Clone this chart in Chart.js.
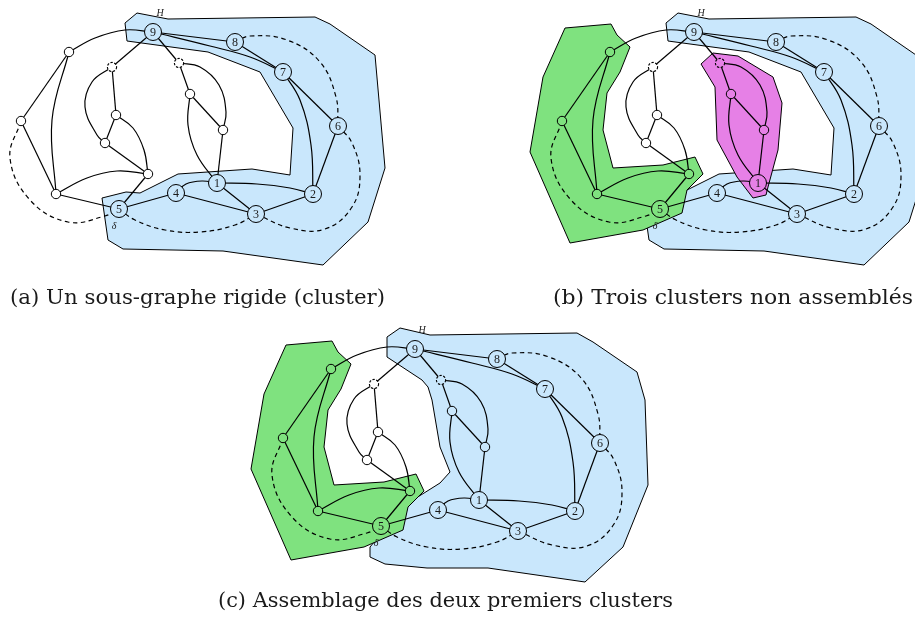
<!DOCTYPE html>
<html>
<head>
<meta charset="utf-8">
<script src="https://cdn.jsdelivr.net/npm/chart.js@4.4.1/dist/chart.umd.min.js"></script>
<style>
  html, body { margin: 0; padding: 0; background: #fff; }
  #wrap { width: 915px; height: 624px; }
</style>
</head>
<body>
<div id="wrap"><canvas id="fig" width="915" height="624"></canvas></div>
<script>
// ── Panels ────────────────────────────────────────────────────
// the same graph is drawn three times, shifted
const panelDx = [0, 541, 262];
const panelDy = [0, 0, 317];
const captions = [
  "(a) Un sous-graphe rigide (cluster)",
  "(b) Trois clusters non assemblés",
  "(c) Assemblage des deux premiers clusters"
];
const captionX = [10, 553, 218];
const captionY = [304, 304, 607];
const captionW = [375, 360, 455];

// ── Graph nodes (panel a coordinates) ─────────────────────────
const nodeNames = ["9","8","7","6","2","3","1","4","5","a","b","c","d","e","f","g","h","i","j"];
const nodeX     = [153,235,283,338,313,256,217,176,119, 69, 21, 56,148,112,116,105,179,190,223];
const nodeY     = [ 32, 42, 72,126,194,214,183,193,209, 52,121,194,174, 67,115,143, 63, 94,130];
const dashedNodes = ["e","h"];
// fill of each node per panel: w white, b blue, g green, m magenta
const nodeFill = [
  "bbbbbbbbbwwwwwwwwww",
  "bbbbbbmbgggggwwwmmm",
  "bbbbbbbbgggggwwwbbb"
];

// ── Edges: from, to, dashed, points the curve passes through ──
const edges = [
  ["a","9",0,[[95,38],[125,30]]],
  ["a","c",0,[[52,120]]],
  ["a","b",0,[]],
  ["b","c",0,[]],
  ["b","5",1,[[10,158],[30,200],[68,222],[105,216]]],
  ["c","d",0,[[87,178],[117,171]]],
  ["c","5",0,[]],
  ["d","5",0,[]],
  ["9","e",0,[]],
  ["e","f",0,[]],
  ["e","g",0,[[92,82],[85,107],[97,135]]],
  ["f","g",0,[]],
  ["g","d",0,[]],
  ["f","d",0,[[133,128],[144,150]]],
  ["9","h",0,[]],
  ["h","i",0,[]],
  ["h","j",0,[[200,67],[219,85],[226,112]]],
  ["i","j",0,[]],
  ["i","1",0,[[188,125],[197,155]]],
  ["j","1",0,[]],
  ["9","8",0,[]],
  ["9","7",0,[[210,46],[250,57]]],
  ["8","7",0,[]],
  ["8","6",1,[[250,36],[287,40],[320,62],[336,97]]],
  ["7","6",0,[]],
  ["7","2",0,[[300,100],[311,145]]],
  ["6","2",0,[]],
  ["6","3",1,[[352,143],[360,175],[352,207],[325,229],[290,228]]],
  ["5","3",1,[[135,220],[165,230],[200,232],[235,225]]],
  ["4","1",0,[[186,184],[202,181]]],
  ["1","2",0,[[257,184],[290,188]]],
  ["1","3",0,[]],
  ["4","3",0,[]],
  ["3","2",0,[]],
  ["5","4",0,[]]
];

// ── Cluster regions (panel a coordinates) ─────────────────────
const bluePolyA = [[125,23],[137,13],[168,19],[315,17],[330,24],[375,55],[385,168],[368,222],[323,265],[223,251],[123,249],[108,240],[102,198],[126,192],[140,193],[178,174],[252,169],[290,175],[293,128],[260,72],[208,52],[127,41]];
const bluePolyC = [[125,20],[138,11],[168,18],[315,16],[331,25],[375,55],[383,83],[386,168],[361,230],[323,265],[226,251],[165,251],[123,247],[108,240],[108,230],[143,188],[178,166],[188,155],[178,130],[170,83],[166,70],[160,63],[125,40]];
const pinkPoly  = [[160,64],[172,53],[197,56],[232,77],[241,103],[237,150],[227,187],[225,195],[212,198],[196,177],[176,140],[174,87]];
const greenPoly = [[24,28],[70,24],[76,35],[89,47],[79,72],[66,93],[62,130],[72,168],[122,165],[154,157],[162,174],[146,190],[141,213],[102,230],[29,243],[-11,152],[2,77]];
// regions of each panel, bottom first
const panelRegions = [
  [[bluePolyA,"b"]],
  [[bluePolyA,"b"],[pinkPoly,"m"],[greenPoly,"g"]],
  [[bluePolyC,"b"],[greenPoly,"g"]]
];

// small italic marks near nodes 9 and 5
const markText = ["H","δ"];
const markX = [160,114];
const markY = [13,226];

const FILLS = { w: "#ffffff", b: "#c9e7fc", g: "#7fe27f", m: "#e680e6" };

// ── Build datasets ────────────────────────────────────────────
function nodeIdx(n) { return nodeNames.indexOf(n); }

function dashedNode(fill) {
  const s = 14, cv = document.createElement("canvas");
  cv.width = s; cv.height = s;
  const g = cv.getContext("2d");
  g.beginPath(); g.arc(s/2, s/2, 4.6, 0, Math.PI*2);
  g.fillStyle = fill; g.fill();
  g.setLineDash([2.4, 1.5]); g.lineWidth = 1.1; g.strokeStyle = "#000"; g.stroke();
  return cv;
}
const dashedImg = {};
Object.keys(FILLS).forEach(k => dashedImg[k] = dashedNode(FILLS[k]));

const datasets = [];

panelDx.forEach((dx, p) => {
  const dy = panelDy[p];

  panelRegions[p].forEach(([poly, col], k) => {
    const pts = poly.concat([poly[0]]).map(([x,y]) => ({ x: x + dx, y: y + dy }));
    datasets.push({
      type: "line", data: pts, fill: "shape",
      backgroundColor: FILLS[col], borderColor: "#000", borderWidth: 1,
      pointRadius: 0, tension: 0, order: 40 - k
    });
  });

  edges.forEach(([a, b, dash, via]) => {
    const ia = nodeIdx(a), ib = nodeIdx(b);
    const pts = [[nodeX[ia], nodeY[ia]], ...via, [nodeX[ib], nodeY[ib]]]
      .map(([x,y]) => ({ x: x + dx, y: y + dy }));
    datasets.push({
      type: "line", data: pts, fill: false,
      borderColor: "#000", borderWidth: 1.2,
      borderDash: dash ? [4.5, 3.5] : [],
      pointRadius: 0, tension: via.length ? 0.4 : 0, order: 20
    });
  });

  datasets.push({
    type: "scatter",
    data: nodeNames.map((n, i) => ({ x: nodeX[i] + dx, y: nodeY[i] + dy })),
    pointRadius: nodeNames.map(n => /\d/.test(n) ? 8.5 : 4.7),
    pointBackgroundColor: nodeNames.map((n, i) => FILLS[nodeFill[p][i]]),
    pointBorderColor: "#000",
    pointBorderWidth: 1,
    pointStyle: nodeNames.map((n, i) => dashedNodes.includes(n) ? dashedImg[nodeFill[p][i]] : "circle"),
    order: 5
  });
});

// ── Text: node numbers, marks, captions ───────────────────────
const textPlugin = {
  id: "figText",
  afterDraw(chart) {
    const { ctx, scales: { x, y } } = chart;
    ctx.save();
    ctx.fillStyle = "#1a1a1a";
    panelDx.forEach((dx, p) => {
      const dy = panelDy[p];
      ctx.font = '12px "Liberation Serif"';
      ctx.textAlign = "center"; ctx.textBaseline = "middle";
      nodeNames.forEach((n, i) => {
        if (!/\d/.test(n)) return;
        ctx.fillText(n, x.getPixelForValue(nodeX[i] + dx), y.getPixelForValue(nodeY[i] + dy) + 0.5);
      });
      ctx.font = 'italic 10px "Liberation Serif"';
      markText.forEach((t, i) => {
        ctx.fillText(t, x.getPixelForValue(markX[i] + dx), y.getPixelForValue(markY[i] + dy));
      });
    });
    ctx.font = '20px "DejaVu Serif"';
    ctx.textAlign = "left"; ctx.textBaseline = "alphabetic";
    captions.forEach((t, i) => {
      const w = ctx.measureText(t).width;
      ctx.save();
      ctx.translate(x.getPixelForValue(captionX[i]), y.getPixelForValue(captionY[i]));
      ctx.scale(captionW[i] / w, 1);
      ctx.fillText(t, 0, 0);
      ctx.restore();
    });
    ctx.restore();
  }
};

new Chart(document.getElementById("fig"), {
  type: "scatter",
  data: { datasets },
  options: {
    responsive: false, animation: false, events: [],
    layout: { padding: 0, autoPadding: false },
    plugins: { legend: { display: false }, tooltip: { enabled: false } },
    scales: {
      x: { type: "linear", min: 0, max: 915, display: false },
      y: { type: "linear", min: 0, max: 624, reverse: true, display: false }
    }
  },
  plugins: [textPlugin]
});
</script>
</body>
</html>
